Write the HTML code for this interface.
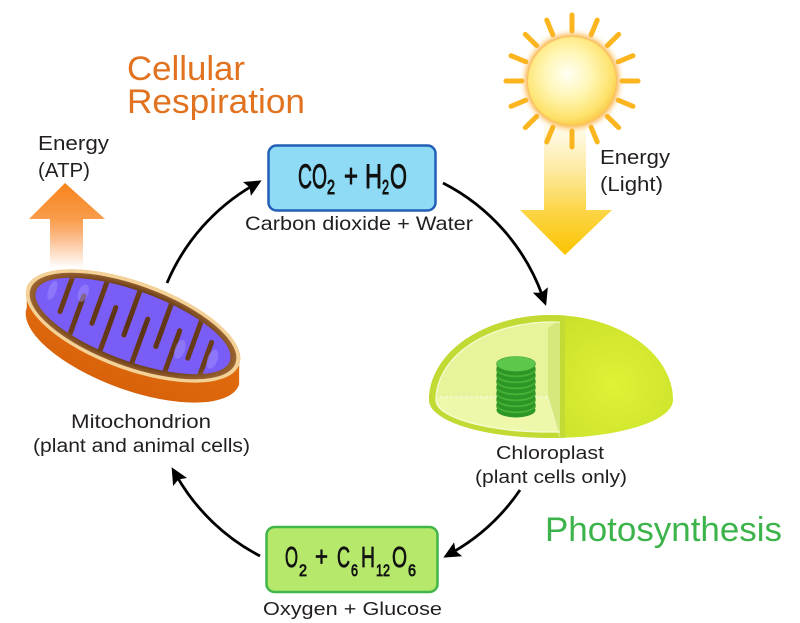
<!DOCTYPE html>
<html><head><meta charset="utf-8"><style>
html,body{margin:0;padding:0;background:#fff;}
svg{display:block;}
text{font-family:"Liberation Sans",sans-serif;}
</style></head><body>
<svg width="800" height="623" viewBox="0 0 800 623" xmlns="http://www.w3.org/2000/svg">
<defs>
  <linearGradient id="atp" x1="0" y1="183" x2="0" y2="268" gradientUnits="userSpaceOnUse">
    <stop offset="0" stop-color="#f7831c"/>
    <stop offset="0.43" stop-color="#f99d4c"/>
    <stop offset="0.6" stop-color="#fbb47c"/>
    <stop offset="1" stop-color="#ffffff"/>
  </linearGradient>
  <linearGradient id="light" x1="0" y1="125" x2="0" y2="255" gradientUnits="userSpaceOnUse">
    <stop offset="0" stop-color="#fffdf2"/>
    <stop offset="0.35" stop-color="#fdeaa0"/>
    <stop offset="0.65" stop-color="#fcd64a"/>
    <stop offset="1" stop-color="#fbc400"/>
  </linearGradient>
  <radialGradient id="sun" cx="0.45" cy="0.42" r="0.6">
    <stop offset="0" stop-color="#fffff4"/>
    <stop offset="0.45" stop-color="#fff6b4"/>
    <stop offset="0.85" stop-color="#fde26a"/>
    <stop offset="1" stop-color="#fbc84a"/>
  </radialGradient>
  <filter id="blur" x="-30%" y="-30%" width="160%" height="160%"><feGaussianBlur stdDeviation="3"/></filter>
  <radialGradient id="brown" gradientUnits="userSpaceOnUse" cx="0" cy="0" r="112" gradientTransform="scale(1,0.39)">
    <stop offset="0" stop-color="#5a3212"/>
    <stop offset="0.8" stop-color="#6a3e18"/>
    <stop offset="1" stop-color="#a56c36"/>
  </radialGradient>
  <linearGradient id="orangeBody" x1="0" y1="0" x2="0" y2="1">
    <stop offset="0" stop-color="#e8720f"/>
    <stop offset="1" stop-color="#d8620a"/>
  </linearGradient>
  <radialGradient id="dome" gradientUnits="userSpaceOnUse" cx="615" cy="385" r="165">
    <stop offset="0" stop-color="#dff236"/>
    <stop offset="0.45" stop-color="#cde22c"/>
    <stop offset="0.85" stop-color="#b2ca22"/>
    <stop offset="1" stop-color="#9cb61a"/>
  </radialGradient>
  <clipPath id="cutClip"><rect x="400" y="290" width="165" height="170"/></clipPath>
  <clipPath id="innerX"><rect x="400" y="290" width="160" height="170"/></clipPath>
  <clipPath id="innerShape"><path d="M436,400 A115,78 0 0,1 666,400 A115,32 0 0,1 436,400 Z"/></clipPath>
  <clipPath id="purpleClip"><ellipse cx="0" cy="0" rx="103" ry="35"/></clipPath>
  <marker id="ah" markerUnits="userSpaceOnUse" markerWidth="20" markerHeight="18" refX="7" refY="8" orient="auto">
    <path d="M0,0 L17,8 L0,16 L3,8 Z" fill="#000"/>
  </marker>
</defs>

<!-- Titles -->
<text x="127" y="80" font-size="34" fill="#e1721f" textLength="118" lengthAdjust="spacingAndGlyphs">Cellular</text>
<text x="127" y="113" font-size="34" fill="#e1721f" textLength="178" lengthAdjust="spacingAndGlyphs">Respiration</text>
<text x="545" y="541" font-size="34" fill="#3cb44b" textLength="237" lengthAdjust="spacingAndGlyphs">Photosynthesis</text>

<!-- Energy ATP -->
<text x="38" y="150" font-size="20.5" fill="#231f20" textLength="71" lengthAdjust="spacingAndGlyphs">Energy</text>
<text x="38" y="177" font-size="20.5" fill="#231f20" textLength="52" lengthAdjust="spacingAndGlyphs">(ATP)</text>
<path d="M50,272 L50,219 L29,219 L65,183 L105,219 L83,219 L83,272 Z" fill="url(#atp)"/>

<!-- Yellow light arrow -->
<path d="M544,125 L586,125 L586,210 L612,210 L565,255 L520,210 L544,210 Z" fill="url(#light)"/>

<!-- Sun -->
<g transform="translate(572,81)" stroke="#fbb51e" stroke-width="5" stroke-linecap="round">
  <line x1="0" y1="-50" x2="0" y2="-66"/>
  <line x1="0" y1="-50" x2="0" y2="-66" transform="rotate(22.5)"/>
  <line x1="0" y1="-50" x2="0" y2="-66" transform="rotate(45)"/>
  <line x1="0" y1="-50" x2="0" y2="-66" transform="rotate(67.5)"/>
  <line x1="0" y1="-50" x2="0" y2="-66" transform="rotate(90)"/>
  <line x1="0" y1="-50" x2="0" y2="-66" transform="rotate(112.5)"/>
  <line x1="0" y1="-50" x2="0" y2="-66" transform="rotate(135)"/>
  <line x1="0" y1="-50" x2="0" y2="-66" transform="rotate(157.5)"/>
  <line x1="0" y1="-50" x2="0" y2="-66" transform="rotate(180)"/>
  <line x1="0" y1="-50" x2="0" y2="-66" transform="rotate(202.5)"/>
  <line x1="0" y1="-50" x2="0" y2="-66" transform="rotate(225)"/>
  <line x1="0" y1="-50" x2="0" y2="-66" transform="rotate(247.5)"/>
  <line x1="0" y1="-50" x2="0" y2="-66" transform="rotate(270)"/>
  <line x1="0" y1="-50" x2="0" y2="-66" transform="rotate(292.5)"/>
  <line x1="0" y1="-50" x2="0" y2="-66" transform="rotate(315)"/>
  <line x1="0" y1="-50" x2="0" y2="-66" transform="rotate(337.5)"/>
</g>
<circle cx="572" cy="81" r="47" fill="#fab13a" filter="url(#blur)"/>
<circle cx="572" cy="81" r="44" fill="url(#sun)"/>

<text x="600" y="164" font-size="20.5" fill="#231f20" textLength="70" lengthAdjust="spacingAndGlyphs">Energy</text>
<text x="600" y="191" font-size="20.5" fill="#231f20" textLength="63" lengthAdjust="spacingAndGlyphs">(Light)</text>

<!-- Mitochondrion -->
<g transform="translate(133,326) rotate(20)">
  <path d="M-113,0 A113,44 0 0,1 113,0 L119.8,18.8 A113,44 0 0,1 -106.2,18.8 Z" fill="url(#orangeBody)"/>
  <ellipse cx="0" cy="0" rx="113" ry="44" fill="#f4d196"/>
  <ellipse cx="0" cy="0" rx="109" ry="40.5" fill="url(#brown)"/>
  <ellipse cx="0" cy="0" rx="103" ry="35" fill="#7a5cf6"/>
  <g clip-path="url(#purpleClip)" fill="url(#brown)">
    <rect x="-76" y="-45" width="5" height="59" rx="2.5"/>
    <rect x="-42" y="-45" width="5" height="59" rx="2.5"/>
    <rect x="-8" y="-45" width="5" height="59" rx="2.5"/>
    <rect x="26" y="-45" width="5" height="59" rx="2.5"/>
    <rect x="60" y="-45" width="5" height="59" rx="2.5"/>
    <rect x="-59" y="-14" width="5" height="59" rx="2.5"/>
    <rect x="-25" y="-14" width="5" height="59" rx="2.5"/>
    <rect x="9" y="-14" width="5" height="59" rx="2.5"/>
    <rect x="43" y="-14" width="5" height="59" rx="2.5"/>
    <rect x="77" y="-14" width="5" height="59" rx="2.5"/>
  </g>
  <g fill="#a090ff" opacity="0.5">
    <ellipse cx="-88" cy="-6" rx="4" ry="10"/>
    <ellipse cx="-58" cy="-14" rx="5" ry="9"/>
    <ellipse cx="52" cy="6" rx="5" ry="10"/>
    <ellipse cx="86" cy="4" rx="5" ry="10"/>
  </g>
</g>
<text x="71" y="428" font-size="19" fill="#231f20" textLength="140" lengthAdjust="spacingAndGlyphs">Mitochondrion</text>
<text x="33" y="452" font-size="19" fill="#231f20" textLength="217" lengthAdjust="spacingAndGlyphs">(plant and animal cells)</text>

<!-- Chloroplast -->
<path d="M429,400 A122,85 0 0,1 673,400 A122,38 0 0,1 429,400 Z" fill="url(#dome)"/>
<g clip-path="url(#cutClip)">
  <path d="M429,400 A122,85 0 0,1 673,400 A122,38 0 0,1 429,400 Z" fill="#c3da34"/>
</g>
<g clip-path="url(#innerX)">
  <g clip-path="url(#innerShape)">
    <rect x="420" y="300" width="150" height="150" fill="#e8f49c"/>
    <rect x="420" y="397" width="150" height="50" fill="#eff8aa"/>
    <polygon points="548,328 562,318 562,440 560,440 548,397" fill="#d6e87c"/>
  </g>
  <path d="M436,400 A115,78 0 0,1 666,400 A115,32 0 0,1 436,400 Z" fill="none" stroke="#f6fbd2" stroke-width="1.3"/>
</g>
<line x1="440" y1="397" x2="548" y2="397" stroke="#ffffff" stroke-opacity="0.75" stroke-width="1" stroke-dasharray="3,2"/>
<line x1="548" y1="397" x2="560" y2="437" stroke="#ffffff" stroke-opacity="0.4" stroke-width="1"/>
<!-- granum -->
<g>
  <ellipse cx="516" cy="410" rx="19.5" ry="7.5" fill="#2d9626"/><ellipse cx="516" cy="406" rx="19.5" ry="7.5" fill="#46b437" stroke="#34992a" stroke-width="0.6"/>
  <ellipse cx="516" cy="404" rx="19.5" ry="7.5" fill="#2d9626"/><ellipse cx="516" cy="400" rx="19.5" ry="7.5" fill="#46b437" stroke="#34992a" stroke-width="0.6"/>
  <ellipse cx="516" cy="398" rx="19.5" ry="7.5" fill="#2d9626"/><ellipse cx="516" cy="394" rx="19.5" ry="7.5" fill="#46b437" stroke="#34992a" stroke-width="0.6"/>
  <ellipse cx="516" cy="392" rx="19.5" ry="7.5" fill="#2d9626"/><ellipse cx="516" cy="388" rx="19.5" ry="7.5" fill="#46b437" stroke="#34992a" stroke-width="0.6"/>
  <ellipse cx="516" cy="386" rx="19.5" ry="7.5" fill="#2d9626"/><ellipse cx="516" cy="382" rx="19.5" ry="7.5" fill="#46b437" stroke="#34992a" stroke-width="0.6"/>
  <ellipse cx="516" cy="380" rx="19.5" ry="7.5" fill="#2d9626"/><ellipse cx="516" cy="376" rx="19.5" ry="7.5" fill="#46b437" stroke="#34992a" stroke-width="0.6"/>
  <ellipse cx="516" cy="374" rx="19.5" ry="7.5" fill="#2d9626"/><ellipse cx="516" cy="370" rx="19.5" ry="7.5" fill="#46b437" stroke="#34992a" stroke-width="0.6"/>
  <ellipse cx="516" cy="368" rx="19.5" ry="7.5" fill="#2d9626"/><ellipse cx="516" cy="364" rx="19.5" ry="7.5" fill="#5cc74a" stroke="#3ea432" stroke-width="0.6"/>
</g>
<text x="496" y="459" font-size="18.5" fill="#231f20" textLength="108" lengthAdjust="spacingAndGlyphs">Chloroplast</text>
<text x="475" y="483" font-size="18.5" fill="#231f20" textLength="152" lengthAdjust="spacingAndGlyphs">(plant cells only)</text>

<!-- CO2 + H2O box -->
<rect x="268.5" y="145.5" width="167" height="65" rx="8" fill="#8fdbf5" stroke="#2160b6" stroke-width="2.5"/>
<g fill="#111" stroke="#111" stroke-width="0.9">
  <text x="298" y="188" font-size="34" textLength="29" lengthAdjust="spacingAndGlyphs">CO</text>
  <text x="327" y="194" font-size="20" textLength="8" lengthAdjust="spacingAndGlyphs">2</text>
  <text x="344" y="187" font-size="32" textLength="14" lengthAdjust="spacingAndGlyphs">+</text>
  <text x="365" y="188" font-size="34" textLength="17" lengthAdjust="spacingAndGlyphs">H</text>
  <text x="382" y="194" font-size="20" textLength="7" lengthAdjust="spacingAndGlyphs">2</text>
  <text x="390" y="188" font-size="34" textLength="17" lengthAdjust="spacingAndGlyphs">O</text>
</g>
<text x="245" y="230" font-size="19.5" fill="#231f20" textLength="228" lengthAdjust="spacingAndGlyphs">Carbon dioxide + Water</text>

<!-- O2 + C6H12O6 box -->
<rect x="266.5" y="527" width="171" height="65" rx="8" fill="#b6e86c" stroke="#41b649" stroke-width="2.5"/>
<g fill="#111" stroke="#111" stroke-width="0.8">
  <text x="285" y="567" font-size="29" textLength="13" lengthAdjust="spacingAndGlyphs">O</text>
  <text x="299" y="576" font-size="17" textLength="8" lengthAdjust="spacingAndGlyphs">2</text>
  <text x="315" y="566" font-size="28" textLength="13" lengthAdjust="spacingAndGlyphs">+</text>
  <text x="337" y="567" font-size="29" textLength="13" lengthAdjust="spacingAndGlyphs">C</text>
  <text x="351" y="576" font-size="17" textLength="7" lengthAdjust="spacingAndGlyphs">6</text>
  <text x="361" y="567" font-size="29" textLength="14" lengthAdjust="spacingAndGlyphs">H</text>
  <text x="376" y="576" font-size="17" textLength="14" lengthAdjust="spacingAndGlyphs">12</text>
  <text x="392" y="567" font-size="29" textLength="15" lengthAdjust="spacingAndGlyphs">O</text>
  <text x="408" y="576" font-size="17" textLength="8" lengthAdjust="spacingAndGlyphs">6</text>
</g>
<text x="263" y="615" font-size="18.5" fill="#231f20" textLength="179" lengthAdjust="spacingAndGlyphs">Oxygen + Glucose</text>

<!-- Cycle connectors -->
<g fill="none" stroke="#000" stroke-width="2.8">
  <path d="M167,283 A205,205 0 0,1 253,185.4" marker-end="url(#ah)"/>
  <path d="M443,183 A205,205 0 0,1 542.7,296.5" marker-end="url(#ah)"/>
  <path d="M520,490 A205,205 0 0,1 452,552.7" marker-end="url(#ah)"/>
  <path d="M260,556 A205,205 0 0,1 176.6,475.9" marker-end="url(#ah)"/>
</g>
</svg>
</body></html>
